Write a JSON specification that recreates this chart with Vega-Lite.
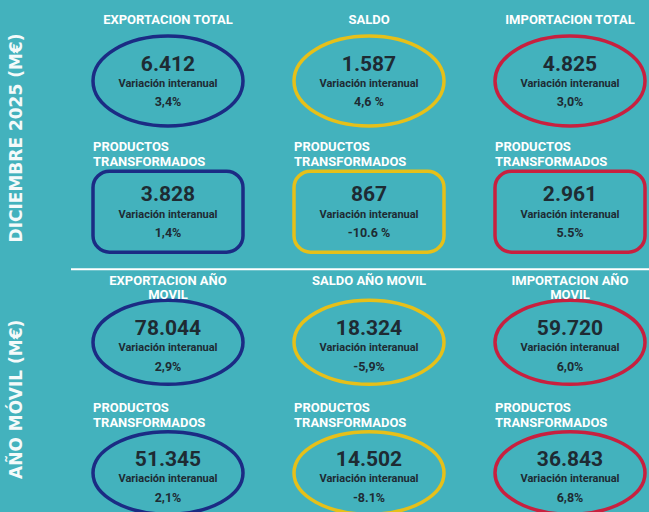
{
  "$schema": "https://vega.github.io/schema/vega-lite/v6.json",
  "width": 402,
  "height": 392,
  "autosize": "none",
  "padding": {"left": 168, "right": 79, "top": 81, "bottom": 39},
  "background": "#43b2bd",
  "config": {"view": {"stroke": null}},
  "datasets": {
    "cards": [
      {"slot": "m1", "col": "Exportación", "title": "EXPORTACION TOTAL", "value": "6.412", "pct": "3,4%"},
      {"slot": "m1", "col": "Saldo", "title": "SALDO", "value": "1.587", "pct": "4,6 %"},
      {"slot": "m1", "col": "Importación", "title": "IMPORTACION TOTAL", "value": "4.825", "pct": "3,0%"},
      {"slot": "m2", "col": "Exportación", "title": "PRODUCTOS|TRANSFORMADOS", "value": "3.828", "pct": "1,4%"},
      {"slot": "m2", "col": "Saldo", "title": "PRODUCTOS|TRANSFORMADOS", "value": "867", "pct": "-10.6 %"},
      {"slot": "m2", "col": "Importación", "title": "PRODUCTOS|TRANSFORMADOS", "value": "2.961", "pct": "5.5%"},
      {"slot": "a1", "col": "Exportación", "title": "EXPORTACION AÑO|MOVIL", "value": "78.044", "pct": "2,9%"},
      {"slot": "a1", "col": "Saldo", "title": "SALDO AÑO MOVIL", "value": "18.324", "pct": "-5,9%"},
      {"slot": "a1", "col": "Importación", "title": "IMPORTACION AÑO|MOVIL", "value": "59.720", "pct": "6,0%"},
      {"slot": "a2", "col": "Exportación", "title": "PRODUCTOS|TRANSFORMADOS", "value": "51.345", "pct": "2,1%"},
      {"slot": "a2", "col": "Saldo", "title": "PRODUCTOS|TRANSFORMADOS", "value": "14.502", "pct": "-8.1%"},
      {"slot": "a2", "col": "Importación", "title": "PRODUCTOS|TRANSFORMADOS", "value": "36.843", "pct": "6,8%"}
    ],
    "sections": [
      {"slot": "m1", "col": "Exportación", "label": "DICIEMBRE  2025 (M€)"},
      {"slot": "a1", "col": "Exportación", "label": "AÑO MÓVIL (M€)"}
    ]
  },
  "data": {"name": "cards"},
  "encoding": {
    "x": {"field": "col", "type": "nominal", "scale": {"type": "point", "domain": ["Exportación", "Saldo", "Importación"], "padding": 0}, "axis": null},
    "y": {"field": "slot", "type": "nominal", "scale": {"type": "point", "domain": ["m1", "m2", "a1", "a2"], "padding": 0}, "axis": null}
  },
  "layer": [
    {
      "mark": {"type": "point", "filled": false, "strokeWidth": 3.5, "size": 22500, "opacity": 1},
      "encoding": {
        "shape": {"field": "slot", "type": "nominal", "legend": null, "scale": {"domain": ["m1", "m2", "a1", "a2"], "range": [
          "M -1 0 C -1 -0.331 -0.552 -0.6 0 -0.6 C 0.552 -0.6 1 -0.331 1 0 C 1 0.331 0.552 0.6 0 0.6 C -0.552 0.6 -1 0.331 -1 0 Z",
          "M -0.78 -0.54 L 0.78 -0.54 C 0.9 -0.54 1 -0.44 1 -0.32 L 1 0.32 C 1 0.44 0.9 0.54 0.78 0.54 L -0.78 0.54 C -0.9 0.54 -1 0.44 -1 0.32 L -1 -0.32 C -1 -0.44 -0.9 -0.54 -0.78 -0.54 Z",
          "M -1 0 C -1 -0.309 -0.552 -0.56 0 -0.56 C 0.552 -0.56 1 -0.309 1 0 C 1 0.309 0.552 0.56 0 0.56 C -0.552 0.56 -1 0.309 -1 0 Z",
          "M -1 0 C -1 -0.304 -0.552 -0.55 0 -0.55 C 0.552 -0.55 1 -0.304 1 0 C 1 0.304 0.552 0.55 0 0.55 C -0.552 0.55 -1 0.304 -1 0 Z"
        ]}},
        "color": {"field": "col", "type": "nominal", "legend": null, "scale": {"domain": ["Exportación", "Saldo", "Importación"], "range": ["#1b2b84", "#e6c019", "#c8203f"]}}
      }
    },
    {
      "transform": [{"filter": {"field": "slot", "oneOf": ["m1", "a1"]}}],
      "mark": {"type": "text", "align": "center", "baseline": "top", "dy": -67, "font": "Roboto", "fontWeight": "bold", "fontSize": 13, "color": "#ffffff", "lineBreak": "|", "lineHeight": 14},
      "encoding": {"text": {"field": "title", "type": "nominal"}}
    },
    {
      "transform": [{"filter": {"field": "slot", "oneOf": ["m2", "a2"]}}],
      "mark": {"type": "text", "align": "left", "baseline": "top", "dx": -75, "dy": -71, "font": "Roboto", "fontWeight": "bold", "fontSize": 13, "color": "#ffffff", "lineBreak": "|", "lineHeight": 15},
      "encoding": {"text": {"field": "title", "type": "nominal"}}
    },
    {
      "transform": [{"filter": {"field": "slot", "oneOf": ["m1", "m2"]}}],
      "mark": {"type": "text", "align": "center", "baseline": "middle", "dy": -16.5, "font": "Roboto", "fontWeight": "bold", "fontSize": 21, "color": "#1e2b33"},
      "encoding": {"text": {"field": "value", "type": "nominal"}}
    },
    {
      "transform": [{"filter": {"field": "slot", "oneOf": ["a1", "a2"]}}],
      "mark": {"type": "text", "align": "center", "baseline": "middle", "dy": -13, "font": "Roboto", "fontWeight": "bold", "fontSize": 21, "color": "#1e2b33"},
      "encoding": {"text": {"field": "value", "type": "nominal"}}
    },
    {
      "transform": [{"filter": {"field": "slot", "oneOf": ["m1", "m2"]}}],
      "mark": {"type": "text", "align": "center", "baseline": "middle", "dy": 3, "font": "Roboto", "fontWeight": "bold", "fontSize": 11, "color": "#1e2b33"},
      "encoding": {"text": {"value": "Variación interanual"}}
    },
    {
      "transform": [{"filter": {"field": "slot", "oneOf": ["a1", "a2"]}}],
      "mark": {"type": "text", "align": "center", "baseline": "middle", "dy": 6, "font": "Roboto", "fontWeight": "bold", "fontSize": 11, "color": "#1e2b33"},
      "encoding": {"text": {"value": "Variación interanual"}}
    },
    {
      "transform": [{"filter": {"field": "slot", "oneOf": ["m1", "m2"]}}],
      "mark": {"type": "text", "align": "center", "baseline": "middle", "dy": 21, "font": "Roboto", "fontWeight": "bold", "fontSize": 12.5, "color": "#1e2b33"},
      "encoding": {"text": {"field": "pct", "type": "nominal"}}
    },
    {
      "transform": [{"filter": {"field": "slot", "oneOf": ["a1", "a2"]}}],
      "mark": {"type": "text", "align": "center", "baseline": "middle", "dy": 25, "font": "Roboto", "fontWeight": "bold", "fontSize": 12.5, "color": "#1e2b33"},
      "encoding": {"text": {"field": "pct", "type": "nominal"}}
    },
    {
      "data": {"name": "sections"},
      "mark": {"type": "text", "align": "center", "baseline": "middle", "angle": 270, "dx": -57, "dy": -151, "font": "DejaVu Sans", "fontWeight": "bold", "fontSize": 17, "color": "#f4fafa"},
      "encoding": {"text": {"field": "label", "type": "nominal"}}
    },
    {
      "data": {"values": [{}]},
      "mark": {"type": "rule", "color": "#ffffff", "strokeWidth": 2, "xOffset": -97, "x2Offset": 79, "yOffset": -73},
      "encoding": {
        "x": {"datum": "Exportación", "type": "nominal"},
        "x2": {"datum": "Importación"},
        "y": {"datum": "a1", "type": "nominal"}
      }
    }
  ]
}
